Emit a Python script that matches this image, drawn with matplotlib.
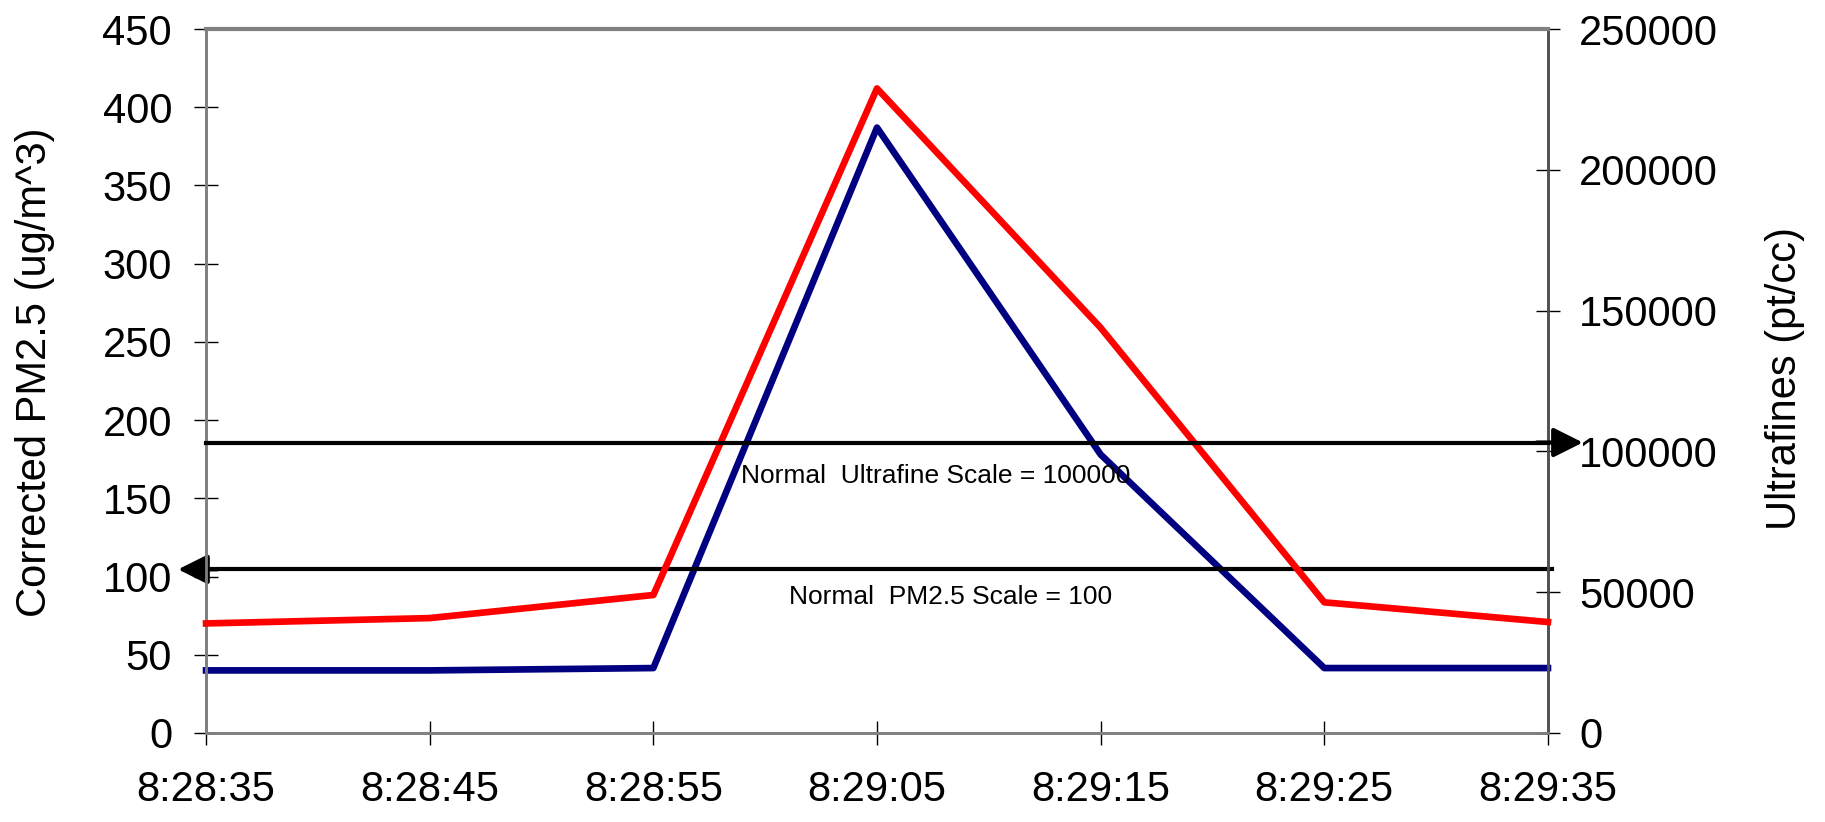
import matplotlib
matplotlib.use("Agg")
import matplotlib.pyplot as plt
import numpy as np

plt.rcParams["font.family"] = ["Liberation Sans", "DejaVu Sans"]

TIMES = ["8:28:35", "8:28:45", "8:28:55", "8:29:05", "8:29:15", "8:29:25", "8:29:35"]
PM25 = [40, 40, 41.5, 387, 178, 41.5, 41.5]                               # ug/m^3, left axis
ULTRAFINES = [38900, 40800, 49000, 228900, 143900, 46400, 39400]       # pt/cc, right axis

PM25_TICKS = list(range(0, 451, 50))
UF_TICKS = list(range(0, 250001, 50000))

PM25_NORMAL = 104.6      # where the reference line sits on the left scale
UF_NORMAL = 103150       # where the reference line sits on the right scale

RED = "#FF0000"
NAVY = "#000080"
SPINE = "#808080"

fig = plt.figure(figsize=(18.25, 8.22), dpi=100)
ax = fig.add_axes([0.1129, 0.1083, 0.7353, 0.8564])
ax2 = ax.twinx()

x = np.arange(len(TIMES))

ax.plot(x, PM25, color=NAVY, lw=4.8, solid_joinstyle="round", zorder=3, clip_on=False)
ax2.plot(x, ULTRAFINES, color=RED, lw=4.8, solid_joinstyle="round", zorder=3, clip_on=False)

# normal-scale reference lines with arrows pointing at their own axis
arrow_style = dict(arrowstyle="-|>,head_length=1.8,head_width=0.9",
                   color="black", lw=3, shrinkA=0, shrinkB=0, mutation_scale=10)
ax.plot([x[0], x[-1] + 0.02], [PM25_NORMAL] * 2, color="black", lw=3, zorder=4, clip_on=False)
ax.annotate("", xy=(-0.125, PM25_NORMAL), xytext=(0.05, PM25_NORMAL),
            arrowprops=arrow_style, annotation_clip=False, zorder=5)
ax2.plot([x[0], x[-1]], [UF_NORMAL] * 2, color="black", lw=3, zorder=4, clip_on=False)
ax2.annotate("", xy=(x[-1] + 0.156, UF_NORMAL), xytext=(x[-1] - 0.05, UF_NORMAL),
             arrowprops=arrow_style, annotation_clip=False, zorder=5)

ax.text(3.263, 164.3, "Normal  Ultrafine Scale = 100000", fontsize=19,
        ha="center", va="center", zorder=6)
ax.text(3.33, 87, "Normal  PM2.5 Scale = 100", fontsize=19,
        ha="center", va="center", zorder=6)

ax.set_xlim(x[0], x[-1])
ax.set_ylim(PM25_TICKS[0], PM25_TICKS[-1])
ax2.set_ylim(UF_TICKS[0], UF_TICKS[-1])

ax.set_xticks(x)
ax.set_xticklabels(TIMES)
ax.set_yticks(PM25_TICKS)
ax.set_yticklabels([str(t) for t in PM25_TICKS])
ax2.set_yticks(UF_TICKS)
ax2.set_yticklabels([str(t) for t in UF_TICKS])

ax.tick_params(axis="both", direction="inout", length=17, width=1, labelsize=30)
ax.tick_params(axis="x", pad=18)
ax.tick_params(axis="y", pad=16)
ax2.tick_params(axis="y", direction="inout", length=17, width=1, labelsize=30, pad=14)

ax.set_ylabel("Corrected PM2.5 (ug/m^3)", fontsize=30)
ax.yaxis.set_label_coords(-0.1125, 0.513)
ax2.set_ylabel("Ultrafines (pt/cc)", fontsize=30, rotation=90)
ax2.yaxis.set_label_coords(1.162, 0.504)

for a in (ax, ax2):
    for spine in a.spines.values():
        spine.set_color(SPINE)
        spine.set_linewidth(2)
ax2.spines["top"].set_linewidth(3)
ax2.spines["right"].set_color("#505050")

fig.savefig("out.png", dpi=100)
